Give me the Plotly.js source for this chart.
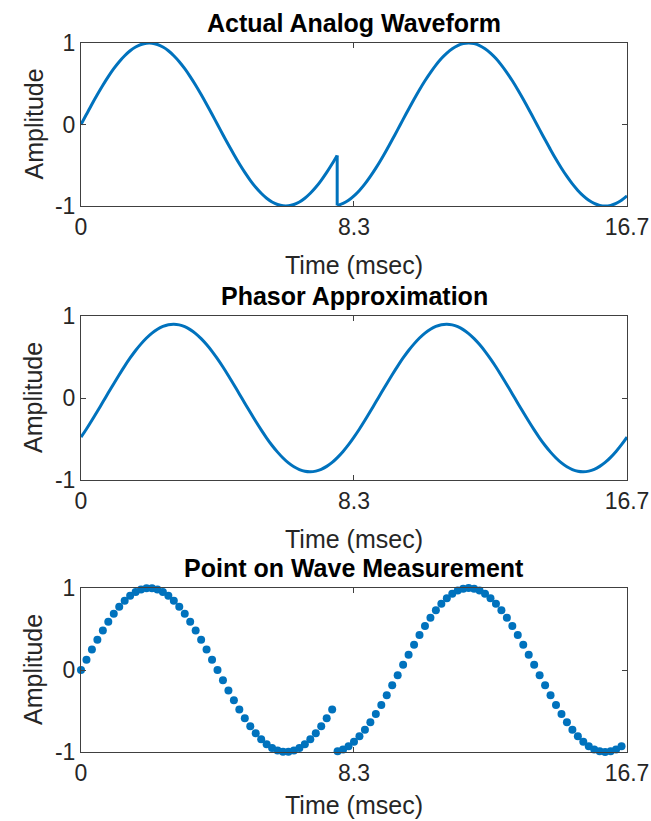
<!DOCTYPE html>
<html>
<head>
<meta charset="utf-8">
<script src="https://cdn.plot.ly/plotly-3.0.1.min.js"></script>
<style>
  html, body { margin: 0; padding: 0; background: #ffffff; }
  #chart { width: 651px; height: 821px; }
</style>
</head>
<body>
<div id="chart"></div>
<script>
// ---- Data ----
// sample times (msec)
const sampleTime = [0,0.167,0.333,0.5,0.667,0.833,1,1.167,1.333,1.5,1.667,1.833,2,2.167,2.333,2.5,2.667,2.833,3,3.167,3.333,3.5,3.667,3.833,4,4.167,4.333,4.5,4.667,4.833,5,5.167,5.333,5.5,5.667,5.833,6,6.167,6.333,6.5,6.667,6.833,7,7.167,7.333,7.5,7.667,7.833,8,8.167,8.333,8.5,8.667,8.833,9,9.167,9.333,9.5,9.667,9.833,10,10.167,10.333,10.5,10.667,10.833,11,11.167,11.333,11.5,11.667,11.833,12,12.167,12.333,12.5,12.667,12.833,13,13.167,13.333,13.5,13.667,13.833,14,14.167,14.333,14.5,14.667,14.833,15,15.167,15.333,15.5,15.667,15.833,16,16.167,16.333,16.5,16.667];

// actual analog waveform amplitude at the sample times
const analogValue = [0,0.125,0.249,0.368,0.482,0.588,0.685,0.771,0.844,0.905,0.951,0.982,0.998,
  0.998,0.982,0.951,0.905,0.844,0.771,0.685,0.588,0.482,0.368,0.249,0.125,0,
  -0.125,-0.249,-0.368,-0.482,-0.588,-0.685,-0.771,-0.844,-0.905,-0.951,-0.982,-0.998,
  -0.998,-0.982,-0.951,-0.905,-0.844,-0.771,-0.685,-0.588,-0.482,
  -0.992,-0.969,-0.930,-0.876,-0.809,-0.729,-0.637,-0.536,-0.426,-0.309,-0.187,-0.063,
  0.063,0.187,0.309,0.426,0.536,0.637,0.729,0.809,0.876,0.930,0.969,0.992,1.0,
  0.992,0.969,0.930,0.876,0.809,0.729,0.637,0.536,0.426,0.309,0.187,0.063,
  -0.063,-0.187,-0.309,-0.426,-0.536,-0.637,-0.729,-0.809,-0.876,-0.930,-0.969,-0.992,-1.0,
  -0.992,-0.969,-0.930,-0.876];

// phase jump of the analog waveform
const jumpTime = 7.82;
const jumpBefore = -0.379;
const jumpAfter = -0.993;
const jumpIndex = 47; // first sample after the jump

// phasor approximation amplitude at the sample times
const phasorValue = [-0.477,-0.378,-0.272,-0.162,-0.050,0.063,0.175,0.284,0.389,0.488,0.579,0.660,0.732,0.792,0.839,0.873,0.894,0.900,0.892,0.870,0.834,0.786,0.724,0.652,0.569,
  0.477,0.378,0.272,0.162,0.050,-0.063,-0.175,-0.284,-0.389,-0.488,-0.579,-0.660,-0.732,-0.792,-0.839,-0.873,-0.894,-0.900,-0.892,-0.870,-0.834,-0.786,-0.724,-0.652,-0.569,
  -0.477,-0.378,-0.272,-0.162,-0.050,0.063,0.175,0.284,0.389,0.488,0.579,0.660,0.732,0.792,0.839,0.873,0.894,0.900,0.892,0.870,0.834,0.786,0.724,0.652,0.569,
  0.477,0.378,0.272,0.162,0.050,-0.063,-0.175,-0.284,-0.389,-0.488,-0.579,-0.660,-0.732,-0.792,-0.839,-0.873,-0.894,-0.900,-0.892,-0.870,-0.834,-0.786,-0.724,-0.652,-0.569,
  -0.477];

// point-on-wave measurement: the first 100 samples
const measuredCount = 100;

const xTickVals = [0, 8.333, 16.667];
const xTickText = ['0', '8.3', '16.7'];
const yTickVals = [-1, 0, 1];
const yTickText = ['-1', '0', '1'];

const subplotTitles = ['Actual Analog Waveform', 'Phasor Approximation', 'Point on Wave Measurement'];
const xLabel = 'Time (msec)';
const yLabel = 'Amplitude';

// ---- Build traces ----
const blue = '#0072BD';
const lw = 3;
const beforeX = sampleTime.slice(0, jumpIndex).concat([jumpTime]);
const beforeY = analogValue.slice(0, jumpIndex).concat([jumpBefore]);
const afterX = [jumpTime].concat(sampleTime.slice(jumpIndex));
const afterY = [jumpAfter].concat(analogValue.slice(jumpIndex));

const traces = [
  { x: beforeX, y: beforeY, xaxis: 'x', yaxis: 'y', type: 'scatter', mode: 'lines',
    line: { color: blue, width: lw, shape: 'spline', smoothing: 0.8 }, cliponaxis: false, hoverinfo: 'skip' },
  { x: [jumpTime, jumpTime], y: [jumpBefore, jumpAfter], xaxis: 'x', yaxis: 'y', type: 'scatter', mode: 'lines',
    line: { color: blue, width: lw }, cliponaxis: false, hoverinfo: 'skip' },
  { x: afterX, y: afterY, xaxis: 'x', yaxis: 'y', type: 'scatter', mode: 'lines',
    line: { color: blue, width: lw, shape: 'spline', smoothing: 0.8 }, cliponaxis: false, hoverinfo: 'skip' },
  { x: sampleTime, y: phasorValue, xaxis: 'x2', yaxis: 'y2', type: 'scatter', mode: 'lines',
    line: { color: blue, width: lw, shape: 'spline', smoothing: 0.8 }, cliponaxis: false, hoverinfo: 'skip' },
  { x: sampleTime.slice(0, measuredCount), y: analogValue.slice(0, measuredCount), xaxis: 'x3', yaxis: 'y3',
    type: 'scatter', mode: 'markers', marker: { color: blue, size: 8 }, cliponaxis: false, hoverinfo: 'skip' }
];

// ---- Layout ----
const W = 651, H = 821;
const plotLeft = 81, plotRight = 627;
const plotTops = [43, 316, 588];
const plotBottoms = [206, 480, 752];
const xLabelShift = [-59, -59, -53];
const font = 'Liberation Sans, Arial, sans-serif';
const axisColor = '#404040';
const textColor = '#262626';

function xAxis(anchor) {
  return {
    domain: [plotLeft / W, plotRight / W], anchor: anchor,
    range: [0, 16.667], tickmode: 'array', tickvals: xTickVals, ticktext: xTickText,
    ticks: 'inside', ticklen: 5, tickwidth: 1, tickcolor: axisColor,
    showline: true, linecolor: axisColor, linewidth: 1, mirror: 'ticks',
    showgrid: false, zeroline: false, fixedrange: true,
    tickfont: { family: font, size: 23, color: textColor }
  };
}
function yAxis(anchor, i) {
  return {
    domain: [(H - plotBottoms[i]) / H, (H - plotTops[i]) / H], anchor: anchor,
    range: [-1, 1], tickmode: 'array', tickvals: yTickVals, ticktext: yTickText,
    ticks: 'inside', ticklen: 5, tickwidth: 1, tickcolor: axisColor,
    showline: true, linecolor: axisColor, linewidth: 1, mirror: 'ticks',
    showgrid: false, zeroline: false, fixedrange: true,
    tickfont: { family: font, size: 23, color: textColor }
  };
}

const annotations = [];
const xMid = (plotLeft + plotRight) / 2 / W;
for (let i = 0; i < 3; i++) {
  const top = (H - plotTops[i]) / H;
  const bottom = (H - plotBottoms[i]) / H;
  annotations.push({ text: '<b>' + subplotTitles[i] + '</b>', xref: 'paper', yref: 'paper',
    x: xMid, y: top, xanchor: 'center', yanchor: 'middle', yshift: 20, showarrow: false,
    font: { family: font, size: 25, color: '#000000' } });
  annotations.push({ text: xLabel, xref: 'paper', yref: 'paper',
    x: xMid, y: bottom, xanchor: 'center', yanchor: 'middle', yshift: xLabelShift[i], showarrow: false,
    font: { family: font, size: 25, color: textColor } });
  annotations.push({ text: yLabel, xref: 'paper', yref: 'paper', textangle: -90,
    x: 33 / W, y: (top + bottom) / 2, xanchor: 'center', yanchor: 'middle', showarrow: false,
    font: { family: font, size: 25, color: textColor } });
}

const layout = {
  width: W, height: H, margin: { l: 0, r: 0, t: 0, b: 0 },
  paper_bgcolor: '#ffffff', plot_bgcolor: '#ffffff', showlegend: false,
  xaxis: xAxis('y'), yaxis: yAxis('x', 0),
  xaxis2: xAxis('y2'), yaxis2: yAxis('x2', 1),
  xaxis3: xAxis('y3'), yaxis3: yAxis('x3', 2),
  annotations: annotations
};

Plotly.newPlot('chart', traces, layout, { staticPlot: true, displayModeBar: false });
</script>
</body>
</html>
